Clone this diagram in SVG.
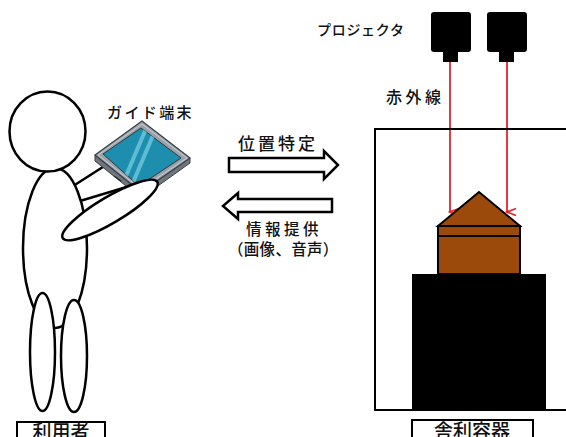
<svg xmlns="http://www.w3.org/2000/svg" width="566" height="437" viewBox="0 0 566 437">
  <defs>
    <style>
      .lbl { font-family: "Noto Sans CJK JP", "Noto Sans", sans-serif; fill: #111; font-weight: 500; }
      .figure { fill: #fff; stroke: #000; stroke-width: 2.5; }
      .bigarrow { fill: #fff; stroke: #000; stroke-width: 2.5; stroke-linejoin: miter; }
      .ir { stroke: #e3242b; stroke-width: 1.8; fill: none; }
      .tag { fill: #fff; stroke: #000; stroke-width: 2; }
      .proj { fill: #000; }
    </style>
    <marker id="irHead" markerWidth="12" markerHeight="14" refX="6" refY="12" orient="auto" markerUnits="userSpaceOnUse" viewBox="0 0 12 14">
      <path d="M2.5,3 L6,12 L9.5,3" fill="none" stroke="#e3242b" stroke-width="1.8"/>
    </marker>
    <clipPath id="screenClip">
      <polygon points="103,154 141,128 181,158 139,186"/>
    </clipPath>
  </defs>

  <rect width="566" height="437" fill="#fff"/>

  <!-- user figure -->
  <g id="user">
    <!-- back arm -->
    <polygon class="figure" points="70,188 106,165 130,186 80,201"/>
    <!-- torso -->
    <ellipse class="figure" cx="55" cy="248" rx="32" ry="80"/>
    <!-- legs -->
    <ellipse class="figure" cx="42.5" cy="352" rx="12.5" ry="59"/>
    <ellipse class="figure" cx="74" cy="356" rx="13" ry="56"/>
    <!-- head -->
    <ellipse class="figure" cx="47.5" cy="131.5" rx="38" ry="40"/>
  </g>

  <!-- guide terminal (tablet) -->
  <g id="tablet">
    <polygon points="95,155 141,192 190,158 190,163 141,198 95,161" fill="#6f767d" stroke="#3a3f44" stroke-width="1"/>
    <polygon points="95,155 142,121 190,158 141,192" fill="#9aa1a8" stroke="#3a3f44" stroke-width="1.2"/>
    <polygon points="98,155 142,124 187,158 141,189" fill="none" stroke="#c9ced3" stroke-width="1"/>
    <polygon points="103,154 141,128 181,158 139,186" fill="#1d8eae" stroke="#2b3a40" stroke-width="1"/>
    <g clip-path="url(#screenClip)" stroke="#5fbcd4" stroke-width="4">
      <line x1="148" y1="124" x2="120" y2="190"/>
      <line x1="157" y1="126" x2="129" y2="192"/>
    </g>
    <line x1="114" y1="176" x2="121" y2="181" stroke="#2b2f33" stroke-width="1.5"/>
  </g>

  <!-- front arm, over the tablet -->
  <g id="user-arm">
    <ellipse class="figure" cx="110" cy="210" rx="55" ry="13" transform="rotate(-30.8 110 210)"/>
  </g>

  <g id="label-guide">
    <text class="lbl" x="107" y="118" font-size="15" letter-spacing="2.4">ガイド端末</text>
  </g>

  <!-- data exchange arrows -->
  <g id="connectors">
    <polygon class="bigarrow" points="229,158 324,158 324,151 338,165 324,179 324,172 229,172"/>
    <polygon class="bigarrow" points="332,199 238,199 238,193 223,206 238,219 238,212 332,212"/>
    <line class="ir" x1="450" y1="62" x2="450" y2="212" marker-end="url(#irHead)"/>
    <line class="ir" x1="507" y1="62" x2="507" y2="212" marker-end="url(#irHead)"/>
  </g>

  <g id="label-locate">
    <text class="lbl" x="238" y="150" font-size="17" letter-spacing="3">位置特定</text>
  </g>
  <g id="label-info">
    <text class="lbl" x="246" y="235" font-size="15.5" letter-spacing="3.5">情報提供</text>
    <text class="lbl" x="228" y="255" font-size="15.5" letter-spacing="0.3">（画像、音声）</text>
  </g>

  <!-- projectors -->
  <g id="projector-1">
    <rect class="proj" x="431" y="12" width="40" height="40" rx="3"/>
    <rect class="proj" x="443" y="51" width="15" height="11"/>
  </g>
  <g id="projector-2">
    <rect class="proj" x="487" y="12" width="40" height="40" rx="3"/>
    <rect class="proj" x="499" y="51" width="15" height="11"/>
  </g>
  <g id="label-projector">
    <text class="lbl" x="317" y="35" font-size="14" letter-spacing="0.7">プロジェクタ</text>
  </g>
  <g id="label-ir">
    <text class="lbl" x="386" y="103" font-size="16" letter-spacing="3.5">赤外線</text>
  </g>

  <!-- reliquary case -->
  <g id="case">
    <rect x="375" y="129" width="200" height="281" fill="none" stroke="#000" stroke-width="2"/>
    <rect x="412" y="274" width="134" height="136" fill="#000"/>
  </g>
  <g id="reliquary">
    <rect x="438" y="226" width="82" height="48" fill="#9c4a0c" stroke="#000" stroke-width="2"/>
    <line x1="438" y1="236" x2="520" y2="236" stroke="#000" stroke-width="2"/>
    <polygon points="438,226 479,192 520,226" fill="#9c4a0c" stroke="#000" stroke-width="2" stroke-linejoin="miter"/>
  </g>

  <!-- name tags -->
  <g id="tag-user">
    <rect class="tag" x="17" y="422" width="88" height="22"/>
    <text class="lbl" x="61" y="439" font-size="19" text-anchor="middle">利用者</text>
  </g>
  <g id="tag-reliquary">
    <rect class="tag" x="412" y="420" width="121" height="24"/>
    <text class="lbl" x="472" y="438" font-size="19" text-anchor="middle">舎利容器</text>
  </g>
</svg>
